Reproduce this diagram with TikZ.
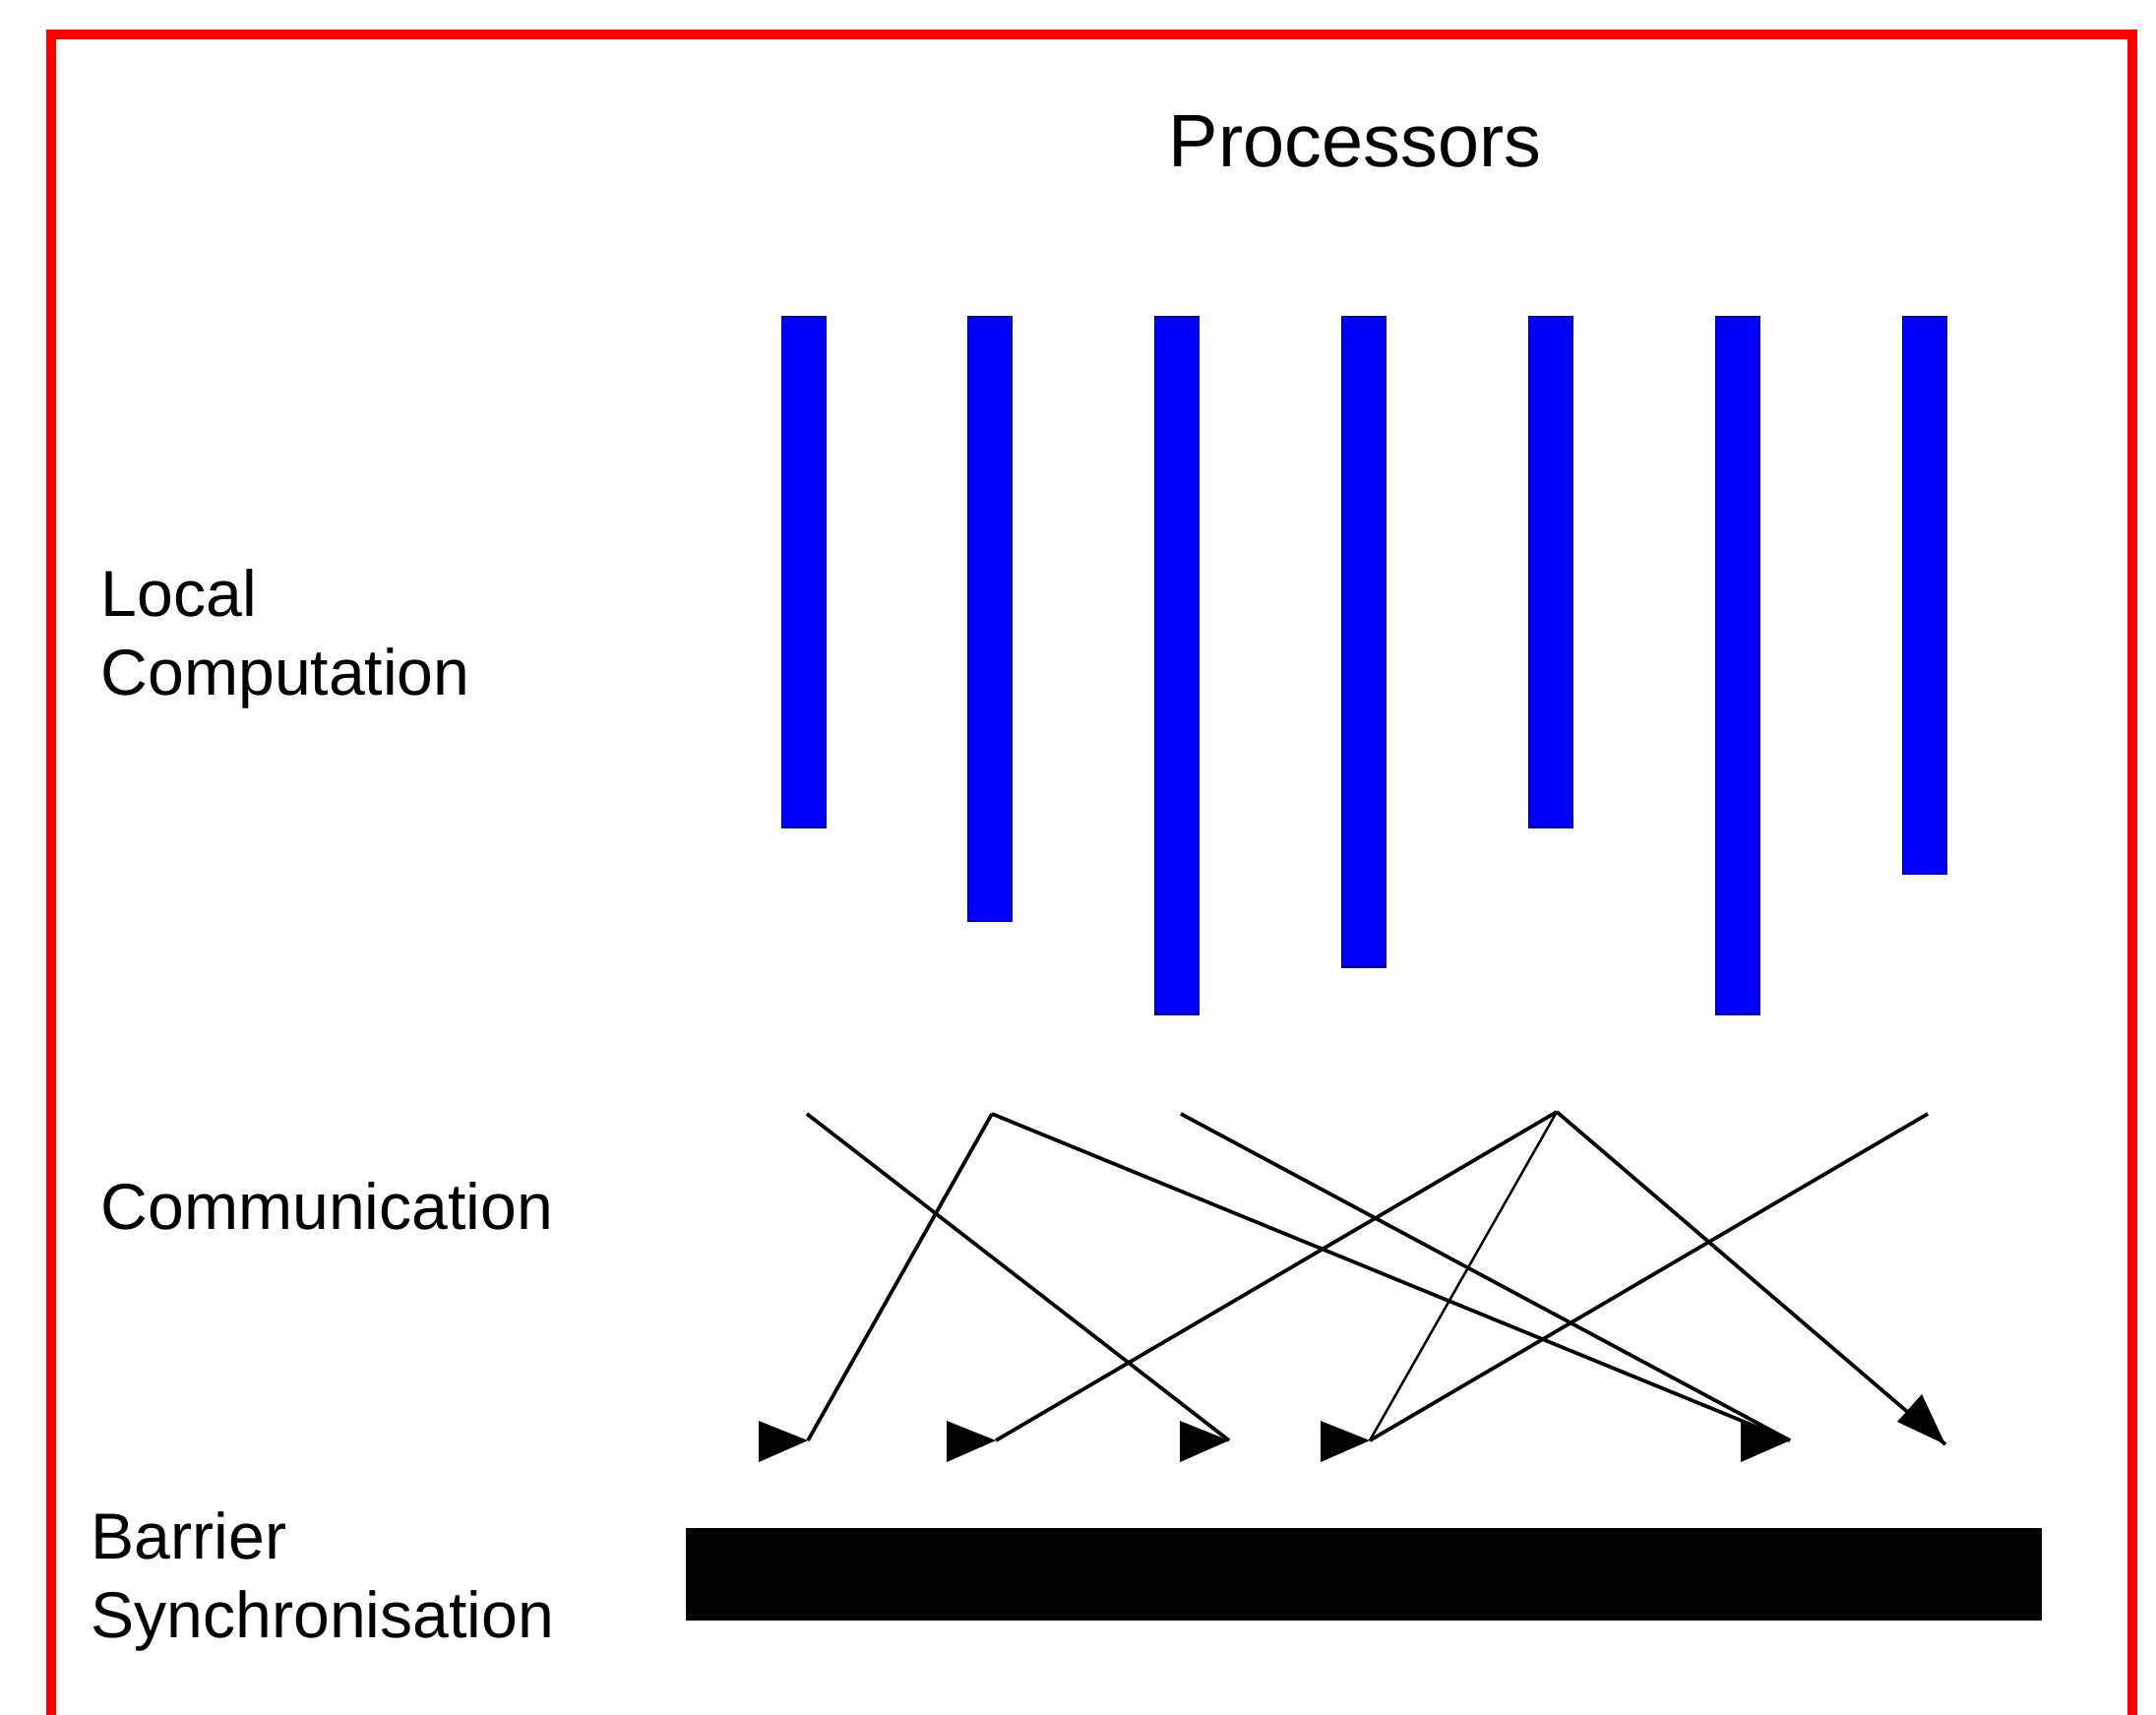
\documentclass[tikz,border=0pt]{standalone}
\usepackage{fontspec}
\setmainfont{Liberation Sans}
\usepackage{tikz}
\usetikzlibrary{positioning}
\newcommand{\headR}[1]{\fill (#1) -- ++(-50,-20) -- ++(0,42) -- cycle;}
\begin{document}
\begin{tikzpicture}
  [
    x=0.01cm, y=-0.01cm,
    Frame/.style={draw=red, line width=2.6pt},
    Bar/.style={rectangle, fill=blue, draw=blue!55!black, line width=0.4pt, inner sep=0pt, minimum width=0.45cm, anchor=north},
    Barrier/.style={rectangle, fill=black, draw=black, inner sep=0pt, minimum width=13.75cm, minimum height=0.92cm},
    Label/.style={inner sep=0pt, align=left, font=\fontsize{18.8}{22.6}\selectfont},
    Msg/.style={draw=black, line width=1.05pt},
    Thin/.style={draw=black, line width=0.7pt}
  ]
  \useasboundingbox (0,0) rectangle (2191,1743);
  \clip (0,0) rectangle (2191,1743);
  \draw[Frame] (52,35) rectangle (2167,1850);
  % Nodes
  \node[inner sep=0pt, anchor=base, font=\fontsize{21.5}{26}\selectfont] (title) at (1377,170) {Processors};
  \node[Label, anchor=north west] (local) at (102,578) {Local\\Computation};
  \node[Label, anchor=base west] (comm) at (102,1249) {Communication};
  \node[Label, anchor=north west] (sync) at (92,1536) {Barrier\\Synchronisation};
  \node[Bar, minimum height=5.19cm] (p1) at (817,321) {};
  \node[Bar, minimum height=6.14cm] (p2) at (1006,321) {};
  \node[Bar, minimum height=7.09cm] (p3) at (1196,321) {};
  \node[Bar, minimum height=6.61cm] (p4) at (1386,321) {};
  \node[Bar, minimum height=5.19cm] (p5) at (1576,321) {};
  \node[Bar, minimum height=7.09cm] (p6) at (1766,321) {};
  \node[Bar, minimum height=5.66cm] (p7) at (1956,321) {};
  \node[Barrier] (barrier) at (1386,1600) {};
  % Senders and receivers
  \coordinate (s1) at (820,1132);
  \coordinate (s2) at (1008,1132);
  \coordinate (s3) at (1200,1132);
  \coordinate (s4) at (1582,1130);
  \coordinate (s5) at (1959,1132);
  \coordinate (t1) at (821,1464);
  \coordinate (t2) at (1012,1464);
  \coordinate (t3) at (1249,1464);
  \coordinate (t4) at (1392,1464);
  \coordinate (t5) at (1819,1464);
  \coordinate (t6) at (1977,1468);
  % Lines
  \path [Msg] (s1) -- (t3);
  \path [Msg] (s2) -- (t1);
  \path [Msg] (s2) -- (t5);
  \path [Msg] (s3) -- (t5);
  \path [Msg] (s4) -- (t2);
  \path [Thin] (s4) -- (t4);
  \path [Msg] (s4) -- (t6);
  \path [Msg] (s5) -- (t4);
  % Heads
  \headR{t1}
  \headR{t2}
  \headR{t3}
  \headR{t4}
  \headR{t5}
  \fill (t6) -- ++(-24,-51) -- ++(-25,28) -- cycle;
\end{tikzpicture}
\end{document}
